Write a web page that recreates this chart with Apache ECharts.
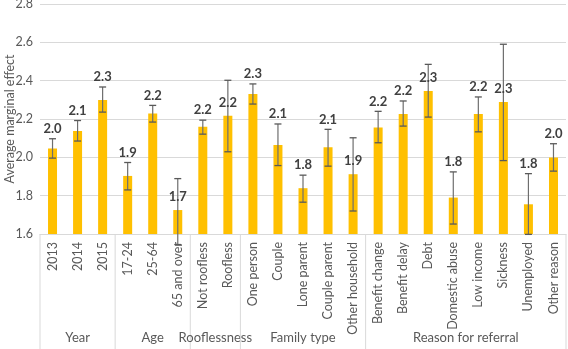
<!DOCTYPE html>
<html>
<head>
<meta charset="utf-8">
<script src="https://cdn.jsdelivr.net/npm/echarts@6/dist/echarts.min.js"></script>
<style>
  html, body { margin: 0; padding: 0; background: #fff; }
  #chart { width: 568px; height: 349px; }
</style>
</head>
<body>
<div id="chart"></div>
<script>
// categories, grouped on the axis
const categories = ['2013', '2014', '2015', '17-24', '25-64', '65 and over',
  'Not roofless', 'Roofless', 'One person', 'Couple', 'Lone parent', 'Couple parent',
  'Other household', 'Benefit change', 'Benefit delay', 'Debt', 'Domestic abuse',
  'Low income', 'Sickness', 'Unemployed', 'Other reason'];
const groupNames = ['Year', 'Age', 'Rooflessness', 'Family type', 'Reason for referral'];
const groupStart = [0, 3, 6, 8, 13];
const groupEnd = [2, 5, 7, 12, 20];

// average marginal effect and its error range
const values = [2.046, 2.137, 2.299, 1.903, 2.229, 1.725, 2.159, 2.217, 2.330, 2.064,
  1.839, 2.052, 1.912, 2.156, 2.226, 2.346, 1.790, 2.226, 2.289, 1.755, 1.999];
const errLow = [1.996, 2.085, 2.236, 1.830, 2.184, 1.545, 2.121, 2.029, 2.278, 1.957,
  1.766, 1.954, 1.720, 2.076, 2.163, 2.210, 1.652, 2.133, 1.983, 1.598, 1.928];
const errHigh = [2.097, 2.192, 2.367, 1.973, 2.271, 1.889, 2.194, 2.402, 2.383, 2.174,
  1.907, 2.146, 2.102, 2.240, 2.294, 2.485, 1.924, 2.315, 2.590, 1.915, 2.071];
// labels that sit over the whisker, just above the bar
const labelOnBar = [5, 7, 12, 15, 18];

const yTicks = { min: 1.6, max: 2.8, step: 0.2 };
const yTitle = 'Average marginal effect';

const font = 'Lato, "Open Sans", sans-serif';
const myChart = echarts.init(document.getElementById('chart'));

const errData = values.map((v, i) => [i, errLow[i], errHigh[i], v]);
const groupData = groupStart.map((s, i) => [s, groupEnd[i], yTicks.min]);

myChart.setOption({
  animation: false,
  grid: { left: 40, right: 2, top: 4, bottom: 115, containLabel: false, outerBoundsMode: 'none' },
  graphic: [{
    // y axis title
    type: 'text',
    x: 10,
    y: 119,
    rotation: Math.PI / 2,
    style: {
      text: yTitle,
      fill: '#595959',
      font: '12.5px ' + font,
      align: 'center',
      verticalAlign: 'middle'
    }
  }],
  xAxis: {
    type: 'category',
    data: categories,
    axisLine: { lineStyle: { color: '#d9d9d9' } },
    axisTick: { show: false },
    axisLabel: {
      rotate: 90,
      interval: 0,
      margin: 8,
      color: '#595959',
      fontSize: 12.5,
      fontFamily: font
    }
  },
  yAxis: {
    type: 'value',
    min: yTicks.min,
    max: yTicks.max,
    interval: yTicks.step,
    axisLine: { show: false },
    axisTick: { show: false },
    axisLabel: {
      color: '#595959',
      fontSize: 12.5,
      fontFamily: font,
      margin: 7,
      formatter: v => v.toFixed(1)
    },
    splitLine: { lineStyle: { color: '#d9d9d9' } }
  },
  series: [
    {
      type: 'bar',
      data: values,
      barWidth: 9,
      itemStyle: { color: '#FFC000' }
    },
    {
      // error bars + value labels
      type: 'custom',
      clip: false,
      z: 3,
      data: errData,
      encode: { x: 0, y: [1, 2] },
      renderItem: function (params, api) {
        const i = api.value(0);
        const lo = api.coord([i, api.value(1)]);
        const hi = api.coord([i, api.value(2)]);
        const top = api.coord([i, api.value(3)]);
        const cap = 3.5;
        const style = { stroke: '#595959', lineWidth: 1.3 };
        const labelY = labelOnBar.indexOf(i) >= 0 ? top[1] - 13 : hi[1] - 10;
        return {
          type: 'group',
          children: [
            { type: 'line', shape: { x1: hi[0], y1: hi[1], x2: lo[0], y2: lo[1] }, style: { stroke: '#6e6e6e', lineWidth: 1.2 } },
            { type: 'line', shape: { x1: hi[0] - cap, y1: hi[1], x2: hi[0] + cap, y2: hi[1] }, style: style },
            { type: 'line', shape: { x1: lo[0] - cap, y1: lo[1], x2: lo[0] + cap, y2: lo[1] }, style: style },
            {
              type: 'text',
              style: {
                x: top[0], y: labelY,
                text: api.value(3).toFixed(1),
                fill: '#404040',
                font: 'bold 13px ' + font,
                align: 'center',
                verticalAlign: 'middle'
              }
            }
          ]
        };
      }
    },
    {
      // group brackets under the category labels
      type: 'custom',
      clip: false,
      silent: true,
      data: groupData,
      encode: { x: [0, 1], y: 2 },
      renderItem: function (params, api) {
        const band = api.size([1, 0])[0];
        const a = api.coord([api.value(0), api.value(2)]);
        const b = api.coord([api.value(1), api.value(2)]);
        const x1 = a[0] - band / 2;
        const x2 = b[0] + band / 2;
        const bottom = params.coordSys.y + params.coordSys.height + 115;
        const style = { stroke: '#d9d9d9', lineWidth: 1 };
        const children = [
          { type: 'line', shape: { x1: x1, y1: a[1], x2: x1, y2: bottom }, style: style },
          {
            type: 'text',
            style: {
              x: (x1 + x2) / 2, y: a[1] + 104,
              text: groupNames[params.dataIndex],
              fill: '#595959',
              font: '13px ' + font,
              align: 'center',
              verticalAlign: 'middle'
            }
          }
        ];
        if (params.dataIndex === groupNames.length - 1) {
          children.push({ type: 'line', shape: { x1: x2, y1: a[1], x2: x2, y2: bottom }, style: style });
        }
        return { type: 'group', children: children };
      }
    }
  ]
});
</script>
</body>
</html>
